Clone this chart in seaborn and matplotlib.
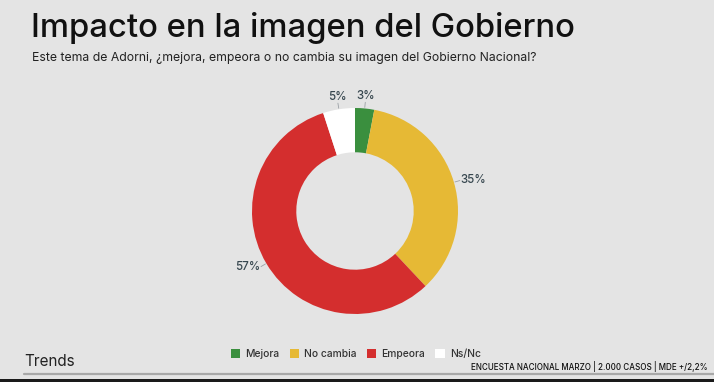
import numpy as np
import matplotlib
matplotlib.use("Agg")
import matplotlib.pyplot as plt
import seaborn as sns
from matplotlib.patches import Patch, Rectangle
from matplotlib.lines import Line2D

categories = ["Mejora", "No cambia", "Empeora", "Ns/Nc"]
values = [3, 35, 57, 5]
labels = ["3%", "35%", "57%", "5%"]
colors = ["#3a8f3e", "#e6b935", "#d42e2e", "#ffffff"]

title = "Impacto en la imagen del Gobierno"
subtitle = "Este tema de Adorni, ¿mejora, empeora o no cambia su imagen del Gobierno Nacional?"
brand = "Trends"
footer = "ENCUESTA NACIONAL MARZO | 2.000 CASOS | MDE +/2,2%"

sns.set_theme(style="white")
plt.rcParams["font.family"] = ["Inter", "DejaVu Sans"]
BG = "#e4e4e4"

W, H = 714, 382
fig = plt.figure(figsize=(W / 100, H / 100), dpi=100, facecolor=BG)

cx, cy, r = 355, 211, 103
ax = fig.add_axes([(cx - r) / W, 1 - (cy + r) / H, 2 * r / W, 2 * r / H])
ax.set_facecolor(BG)
wedges, _ = ax.pie(values, colors=colors, startangle=90, counterclock=False,
                   radius=1.0, wedgeprops=dict(width=0.43, edgecolor="none"))
ax.set_xlim(-1, 1)
ax.set_ylim(-1, 1)
ax.set_aspect("equal")
ax.axis("off")

lab_color = "#37474f"
for w, lab in zip(wedges, labels):
    ang = np.deg2rad((w.theta1 + w.theta2) / 2)
    c, s = np.cos(ang), np.sin(ang)
    ax.plot([1.01 * c, 1.06 * c], [1.01 * s, 1.06 * s], color="#9aa0a6", lw=0.6,
            clip_on=False)
    if abs(c) < 0.35:
        ha, va = "center", "bottom"
        tx, ty = 1.07 * c, 1.06 * s
    else:
        ha = "left" if c > 0 else "right"
        va = "center"
        tx, ty = 1.07 * c, 1.07 * s
    ax.text(tx, ty, lab, ha=ha, va=va, fontsize=8.3, color=lab_color,
            fontweight="medium", clip_on=False)

fig.text(31 / W, 1 - 28 / H, title, fontsize=23.6, color="#111111", va="center",
         ha="left", fontweight="medium")
fig.text(32 / W, 1 - 58 / H, subtitle, fontsize=8.8, color="#222222", va="center",
         ha="left")

handles = [Patch(facecolor=c, edgecolor="none") for c in colors]
fig.legend(handles, categories, loc="center", bbox_to_anchor=(356 / W, 1 - 354 / H),
           ncol=4, frameon=False, fontsize=7.4, handlelength=0.9, handleheight=1.0,
           handletextpad=0.5, columnspacing=1.0, labelcolor="#333333",
           prop=dict(size=7.4, weight="medium"))

fig.text(24 / W, 1 - 361 / H, brand, fontsize=11, color="#222222", va="center",
         ha="left")
fig.text(708 / W, 1 - 367 / H, footer, fontsize=5.8, color="#111111", va="center",
         ha="right", fontweight="medium")

fig.add_artist(Line2D([24 / W, 1], [1 - 374 / H, 1 - 374 / H], color="#a8a8a8", lw=1.6))
fig.add_artist(Rectangle((0, 0), 1, 3 / H, transform=fig.transFigure,
                         facecolor="#1a1a1a", edgecolor="none"))

fig.savefig("out.png", dpi=100, facecolor=BG)
